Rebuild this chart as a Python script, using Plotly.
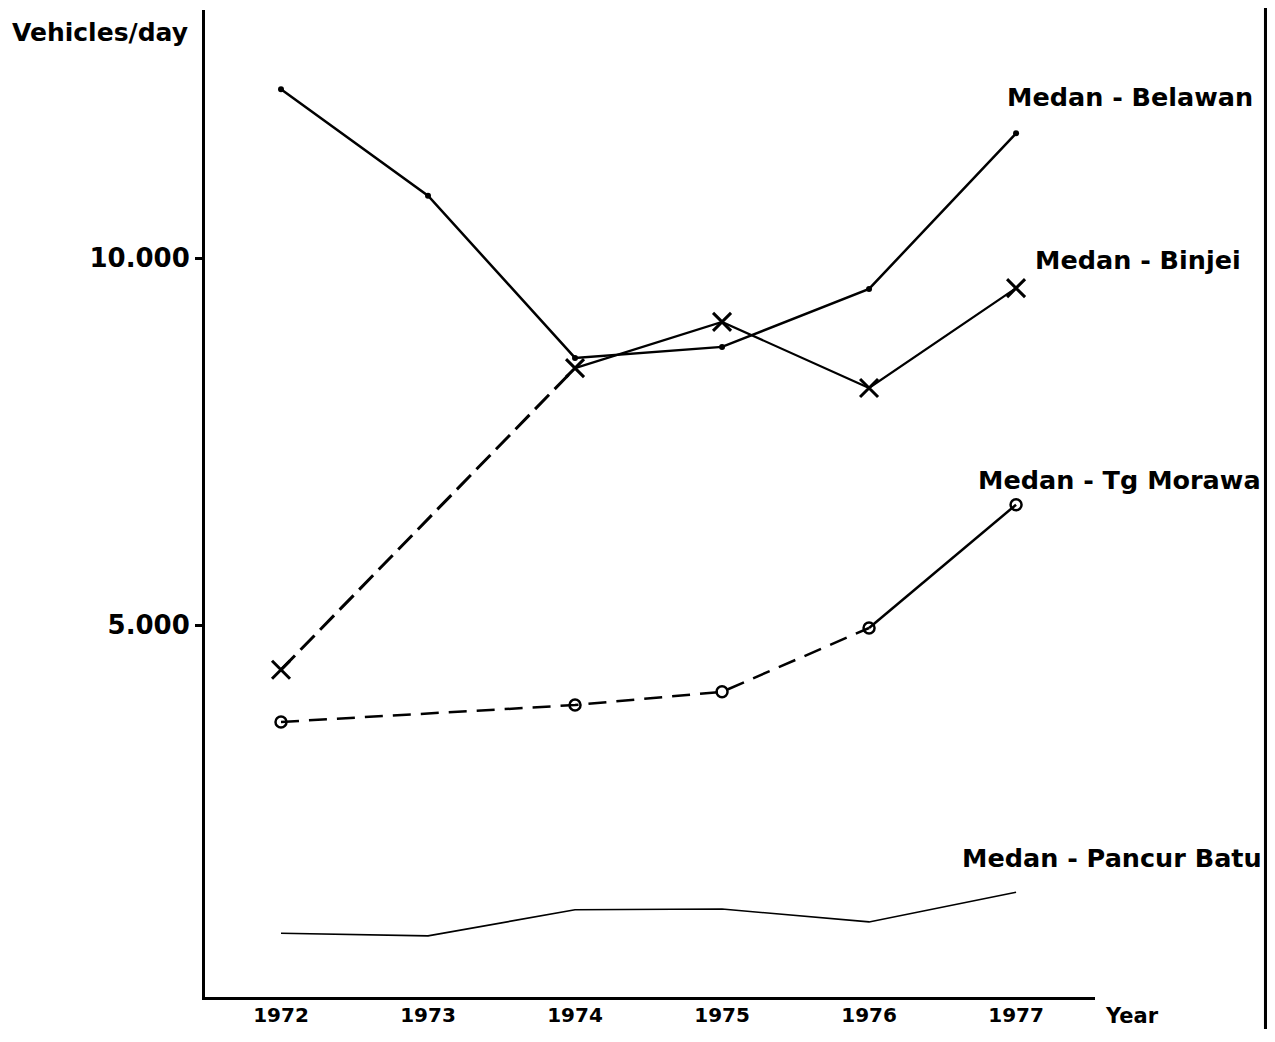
import plotly.graph_objects as go

years = [1972, 1973, 1974, 1975, 1976, 1977]
series_names = ["Medan - Belawan", "Medan - Binjei", "Medan - Tg Morawa", "Medan - Pancur Batu"]

belawan = [12300, 10850, 8640, 8790, 9580, 11700]
binjei_years = [1972, 1974, 1975, 1976, 1977]
binjei = [4390, 8500, 9130, 8230, 9590]
morawa_years = [1972, 1974, 1975, 1976, 1977]
morawa = [3680, 3910, 4090, 4960, 6640]
pancur = [800, 765, 1120, 1130, 955, 1360]

ytick_vals = [5000, 10000]
ytick_text = ["5.000", "10.000"]
xtick_text = ["1972", "1973", "1974", "1975", "1976", "1977"]

FONT = "DejaVu Sans, sans-serif"
BLACK = "#000000"

fig = go.Figure()

# Medan - Belawan
fig.add_trace(go.Scatter(x=years, y=belawan, mode="lines+markers",
                         line=dict(color=BLACK, width=2.5),
                         marker=dict(symbol="circle", size=6, color=BLACK),
                         showlegend=False))
# Medan - Binjei: dashed 1972-1974, solid afterwards
fig.add_trace(go.Scatter(x=binjei_years[:2], y=binjei[:2], mode="lines",
                         line=dict(color=BLACK, width=3, dash="20px,8px"),
                         showlegend=False))
fig.add_trace(go.Scatter(x=binjei_years[1:], y=binjei[1:], mode="lines",
                         line=dict(color=BLACK, width=2.2), showlegend=False))
fig.add_trace(go.Scatter(x=binjei_years, y=binjei, mode="markers",
                         marker=dict(symbol="x-thin", size=18, color=BLACK,
                                     line=dict(color=BLACK, width=3)),
                         showlegend=False))
# Medan - Tg Morawa: dashed to 1976, solid to 1977
fig.add_trace(go.Scatter(x=morawa_years[:4], y=morawa[:4], mode="lines",
                         line=dict(color=BLACK, width=2.5, dash="18px,10px"),
                         showlegend=False))
fig.add_trace(go.Scatter(x=morawa_years[3:], y=morawa[3:], mode="lines",
                         line=dict(color=BLACK, width=2.5), showlegend=False))
fig.add_trace(go.Scatter(x=morawa_years, y=morawa, mode="markers",
                         marker=dict(symbol="circle-open", size=11, color=BLACK,
                                     line=dict(color=BLACK, width=2.5)),
                         showlegend=False))
# Medan - Pancur Batu
fig.add_trace(go.Scatter(x=years, y=pancur, mode="lines",
                         line=dict(color=BLACK, width=1.6), showlegend=False))

label_pos = [(1.039, 0.912), (1.048, 0.747), (1.028, 0.524), (1.019, 0.141)]
annotations = []
for name, (px, py) in zip(series_names, label_pos):
    annotations.append(dict(text=name, xref="paper", yref="paper", x=px, y=py,
                            xanchor="center", yanchor="middle", showarrow=False,
                            font=dict(family=FONT, size=25.5, color=BLACK, weight="bold")))
annotations.append(dict(text="Vehicles/day", xref="paper", yref="paper",
                        x=-0.118, y=0.977, xanchor="center", yanchor="middle",
                        showarrow=False,
                        font=dict(family=FONT, size=25, color=BLACK, weight="bold")))
annotations.append(dict(text="Year", xref="paper", yref="paper",
                        x=1.042, y=-0.019, xanchor="center", yanchor="middle",
                        showarrow=False,
                        font=dict(family=FONT, size=21, color=BLACK, weight="bold")))

fig.update_layout(
    width=1259, height=1021,
    margin=dict(l=197, r=172, t=2, b=32),
    paper_bgcolor="white", plot_bgcolor="white",
    annotations=annotations,
    shapes=[dict(type="line", xref="paper", yref="paper",
                 x0=1.1921, x1=1.1921, y0=-0.04, y1=1.002,
                 line=dict(color=BLACK, width=4))],
    xaxis=dict(range=[1971.483, 1977.537], tickvals=years, ticktext=xtick_text,
               showgrid=False, zeroline=False, showline=True, linecolor=BLACK,
               linewidth=3, ticks="", ticklabelstandoff=-2, automargin=False,
               tickfont=dict(family=FONT, size=20, color=BLACK, weight="bold")),
    yaxis=dict(range=[-68, 13380], tickvals=ytick_vals, ticktext=ytick_text,
               showgrid=False, zeroline=False, showline=True, linecolor=BLACK,
               linewidth=3, ticks="outside", ticklen=7, tickwidth=2.5,
               tickcolor=BLACK, automargin=False,
               tickfont=dict(family=FONT, size=26, color=BLACK, weight="bold")),
)

fig.write_html("out.html")
